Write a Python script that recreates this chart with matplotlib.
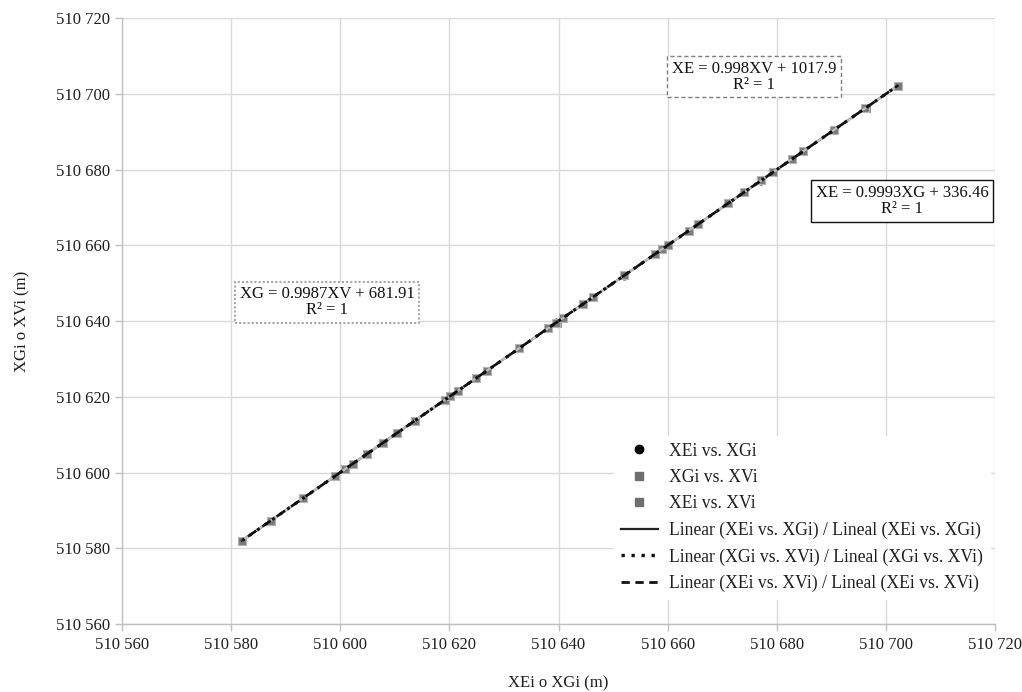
import matplotlib
matplotlib.use("Agg")
import matplotlib.pyplot as plt
import numpy as np
from matplotlib.ticker import FuncFormatter, MultipleLocator
from matplotlib.lines import Line2D

plt.rcParams['font.family'] = ['Liberation Serif', 'DejaVu Serif']

# Data (metres)
XE = [510582.0, 510587.3, 510593.2, 510599.0, 510600.9, 510602.4, 510604.9, 510607.8,
      510610.5, 510613.7, 510619.2, 510620.1, 510621.6, 510624.9, 510626.9, 510632.8,
      510638.1, 510639.6, 510640.8, 510644.5, 510646.3, 510652.0, 510657.7, 510659.0,
      510660.1, 510663.8, 510665.6, 510671.1, 510674.0, 510677.1, 510679.3, 510682.8,
      510684.8, 510690.5, 510696.2, 510702.1]
XG = [510582.05, 510587.32, 510593.18, 510599.04, 510600.93, 510602.38, 510604.95, 510607.82,
      510610.47, 510613.74, 510619.21, 510620.13, 510621.58, 510624.93, 510626.88, 510632.84,
      510638.12, 510639.63, 510640.79, 510644.52, 510646.33, 510652.01, 510657.74, 510659.02,
      510660.11, 510663.82, 510665.58, 510671.12, 510674.03, 510677.09, 510679.31, 510682.82,
      510684.79, 510690.51, 510696.21, 510702.08]
XV = [510582.02, 510587.35, 510593.22, 510599.01, 510600.95, 510602.41, 510604.93, 510607.85,
      510610.52, 510613.71, 510619.24, 510620.12, 510621.63, 510624.92, 510626.91, 510632.82,
      510638.14, 510639.61, 510640.83, 510644.51, 510646.32, 510652.04, 510657.72, 510659.03,
      510660.13, 510663.81, 510665.62, 510671.13, 510674.02, 510677.12, 510679.33, 510682.81,
      510684.83, 510690.52, 510696.23, 510702.11]

eq_EG = "XE = 0.9993XG + 336.46\nR² = 1"
eq_GV = "XG = 0.9987XV + 681.91\nR² = 1"
eq_EV = "XE = 0.998XV + 1017.9\nR² = 1"

x_ticks = [510560, 510580, 510600, 510620, 510640, 510660, 510680, 510700, 510720]

fig = plt.figure(figsize=(10.22, 6.92), dpi=100)
ax = fig.add_axes([0.119, 0.098, 0.855, 0.876])

xe = np.array(XE); xg = np.array(XG); xv = np.array(XV)

def trend(x, y):
    p = np.polyfit(x - x.mean(), y, 1)
    xs = np.array([x.min(), x.max()])
    return xs, np.polyval(p, xs - x.mean())

# scatter series
ax.scatter(xe, xg, s=22, marker='o', color='black', zorder=3, label='XEi vs. XGi')
ax.scatter(xg, xv, s=34, marker='s', color='#6e6e6e', edgecolor='#8c8c8c', lw=0.6, zorder=3, label='XGi vs. XVi')
ax.scatter(xe, xv, s=34, marker='s', color='#7a7a7a', edgecolor='#b5b5b5', lw=0.8, zorder=4, label='XEi vs. XVi')

# trendlines
tx, ty = trend(xe, xg)
ax.plot(tx, ty, color='#222222', lw=1.6, ls='-', zorder=5)
tx, ty = trend(xg, xv)
ax.plot(tx, ty, color='#111111', lw=2.2, ls=(0, (1, 2)), zorder=6)
tx, ty = trend(xe, xv)
ax.plot(tx, ty, color='#bdbdbd', lw=1.8, ls=(0, (4, 3)), zorder=5)
ax.plot(tx, ty, color='#111111', lw=1.8, ls=(4, (4, 3)), zorder=5)

ax.set_xlim(x_ticks[0], x_ticks[-1])
ax.set_ylim(x_ticks[0], x_ticks[-1])
ax.xaxis.set_major_locator(MultipleLocator(20))
ax.yaxis.set_major_locator(MultipleLocator(20))
fmt = FuncFormatter(lambda v, p: f"{int(round(v)):,}".replace(",", " "))
ax.xaxis.set_major_formatter(fmt)
ax.yaxis.set_major_formatter(fmt)

ax.grid(True, color='#d9d9d9', lw=1.0)
ax.set_axisbelow(True)
for s in ['top', 'right']:
    ax.spines[s].set_visible(False)
for s in ['left', 'bottom']:
    ax.spines[s].set_color('#bfbfbf')
    ax.spines[s].set_linewidth(1.0)
ax.tick_params(axis='both', colors='#bfbfbf', length=5, width=1.0, labelsize=12, labelcolor='#1e1e1e')
ax.tick_params(axis='x', pad=4)

ax.set_xlabel('XEi o XGi (m)', fontsize=12, color='#1e1e1e', labelpad=16)
ax.set_ylabel('XGi o XVi (m)', fontsize=12, color='#1e1e1e', labelpad=18)

# equation boxes
ax.text(0.724, 0.903, eq_EV, transform=ax.transAxes, ha='center', va='center', fontsize=12,
        linespacing=1.0, color='#111111',
        bbox=dict(boxstyle='square,pad=0.28', fc='white', ec='#7f7f7f', ls=(0, (3, 2)), lw=1.0))
ax.text(0.893, 0.698, eq_EG, transform=ax.transAxes, ha='center', va='center', fontsize=12,
        linespacing=1.0, color='#111111', clip_on=False,
        bbox=dict(boxstyle='square,pad=0.3', fc='white', ec='#111111', lw=1.0))
ax.text(0.235, 0.531, eq_GV, transform=ax.transAxes, ha='center', va='center', fontsize=12,
        linespacing=1.0, color='#111111',
        bbox=dict(boxstyle='square,pad=0.28', fc='white', ec='#a6a6a6', ls=(0, (1, 1)), lw=1.5))

handles = [
    Line2D([], [], marker='o', ls='none', color='black', markersize=6),
    Line2D([], [], marker='s', ls='none', color='#6e6e6e', markersize=6),
    Line2D([], [], marker='s', ls='none', color='#6e6e6e', markersize=6),
    Line2D([], [], color='#222222', lw=1.6),
    Line2D([], [], color='#111111', lw=2.4, ls=(0, (1, 2))),
    Line2D([], [], color='#111111', lw=2.0, ls=(0, (3, 2))),
]
labels = ['XEi vs. XGi', 'XGi vs. XVi', 'XEi vs. XVi',
          'Linear (XEi vs. XGi) / Lineal (XEi vs. XGi)',
          'Linear (XGi vs. XVi) / Lineal (XGi vs. XVi)',
          'Linear (XEi vs. XVi) / Lineal (XEi vs. XVi)']
leg = ax.legend(handles, labels, loc='center right', bbox_to_anchor=(1.0, 0.176), frameon=True,
                fontsize=12.7, handlelength=2.1, handletextpad=0.65, labelspacing=0.53, borderaxespad=0.3)
leg.get_frame().set_edgecolor('white')
leg.get_frame().set_facecolor('white')
leg.get_frame().set_alpha(1.0)
for t in leg.get_texts():
    t.set_color('#1e1e1e')

fig.savefig('out.png', dpi=100)
